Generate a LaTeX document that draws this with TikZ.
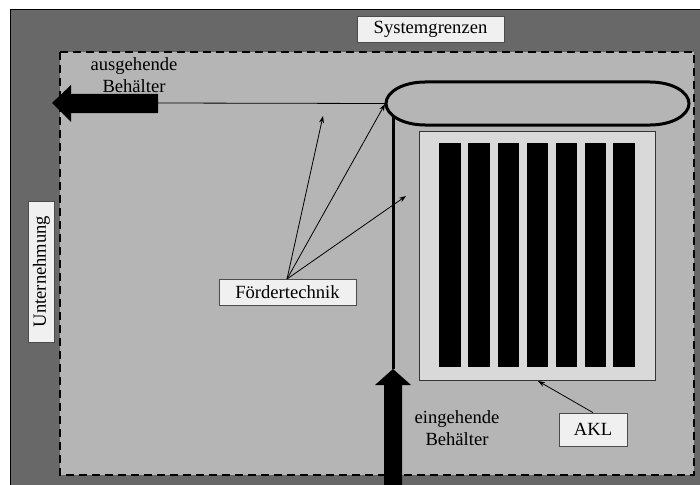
\documentclass[tikz,border=0pt]{standalone}
\usepackage{fontspec}
\setmainfont{Liberation Serif}
\usetikzlibrary{arrows.meta}
\definecolor{darkbg}{HTML}{686868}
\definecolor{innerbg}{HTML}{B5B5B5}
\definecolor{boxbg}{HTML}{F0F0F0}
\definecolor{rackbg}{HTML}{D9D9D9}
\begin{document}
\begin{tikzpicture}[x=1pt,y=-1pt,
  lbl/.style={draw=black!70,fill=boxbg,line width=0.8pt,inner sep=0pt,font=\fontsize{18.6}{21}\selectfont},
  plain/.style={align=center,font=\fontsize{18.6}{22}\selectfont,inner sep=0pt},
  ptr/.style={-{Stealth[length=7pt,width=5pt]},line width=0.8pt},
  bar/.style={fill=black,draw=none}]
\useasboundingbox (0,0) rectangle (700,484);
\fill[white] (0,0) rectangle (700,484);
\draw[fill=darkbg,line width=0.8pt] (10,9) rectangle (701,485);
\draw[fill=innerbg,line width=2.4pt,dash pattern=on 8pt off 5pt] (60,52) rectangle (694,475);
% labels
\node[lbl,minimum width=147,minimum height=26] (sys) at (430.5,29) {Systemgrenzen};
\node[lbl,minimum width=141,minimum height=26,rotate=90] (unt) at (41.5,271.5) {Unternehmung};
% outgoing arrow
\node[plain] (aus) at (134,75) {ausgehende\\Behälter};
\fill (52,103) -- (71,85) -- (71,94) -- (158,94) -- (158,113) -- (71,113) -- (71,122) -- cycle;
\coordinate (outend) at (158,103);
% conveyor loop
\node[minimum width=303,minimum height=43,inner sep=0pt] (conv) at (537.5,103.5) {};
\draw[line width=3pt] (425,82) -- (650,82) arc[start angle=-90,end angle=90,x radius=39,y radius=21.5] -- (425,125) arc[start angle=90,end angle=270,x radius=39,y radius=21.5] -- cycle;
\draw[line width=0.8pt] (conv.west) -- (outend);
% AKL rack
\node[draw=black!80,fill=rackbg,line width=0.8pt,minimum width=236,minimum height=249,inner sep=0pt] (rack) at (537,255.5) {};
\foreach \x in {439,468,497.5,526.5,555.5,584.5,613} {
  \fill (\x,143) rectangle ++(21.5,224);
}
% incoming line and arrow
\coordinate (inl) at (393,115);
\coordinate (intip) at (393,369);
\draw[line width=3pt] (inl) -- (intip);
\fill (393,369) -- (411,385) -- (402,385) -- (402,485) -- (384,485) -- (384,385) -- (375,385) -- cycle;
\node[plain] (ein) at (457,428) {eingehende\\Behälter};
% Foerdertechnik
\node[lbl,minimum width=137,minimum height=26] (foe) at (287.5,292.5) {Fördertechnik};
\coordinate (t1) at (323,116);
\coordinate (t2) at (385,104);
\coordinate (t3) at (406,196);
\coordinate (fs) at (287,279);
\draw[ptr] (fs) -- (t1);
\draw[ptr] (fs) -- (t2);
\draw[ptr] (fs) -- (t3);
% AKL
\node[lbl,minimum width=68,minimum height=33] (akl) at (593,429.5) {AKL};
\draw[ptr] (akl.north) -- (538,381);
\end{tikzpicture}
\end{document}
